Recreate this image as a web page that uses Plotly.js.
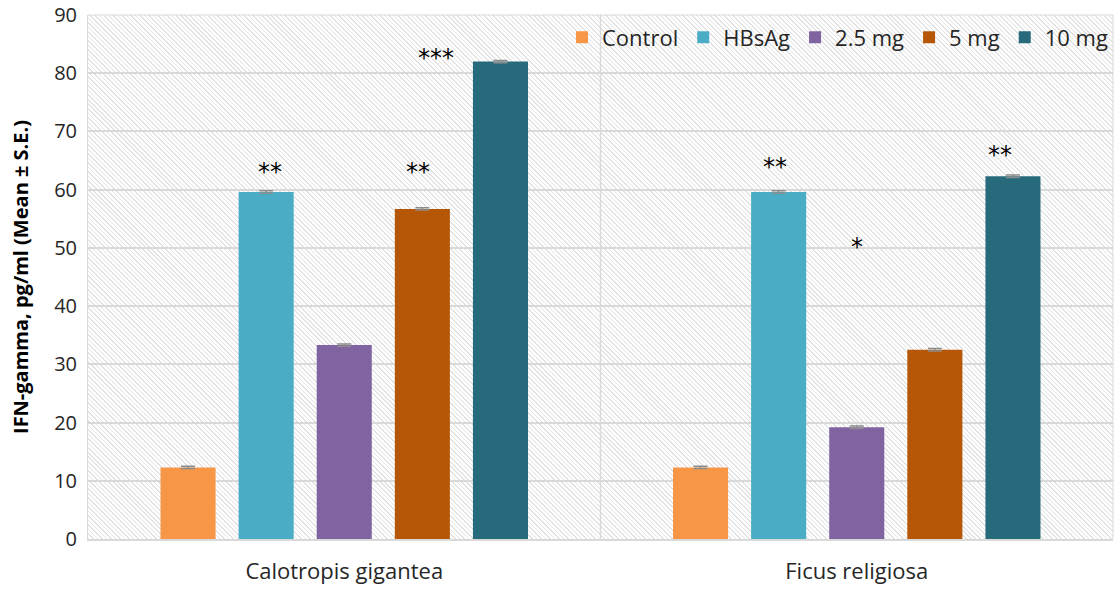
<!DOCTYPE html>
<html>
<head>
<meta charset="utf-8">
<script src="https://cdn.plot.ly/plotly-3.0.1.min.js"></script>
<style>
  html, body { margin: 0; padding: 0; background: #fff; }
  #wrap { position: relative; width: 1117px; height: 589px; }
  #hatch {
    position: absolute; left: 88px; top: 15px; width: 1025px; height: 524px;
    background: repeating-linear-gradient(45deg, #e3e3e3 0px, #e3e3e3 1.1px, #ffffff 1.1px, #ffffff 3.2px);
  }
  #chart { position: absolute; left: 0; top: 0; width: 1117px; height: 589px; }
</style>
</head>
<body>
<div id="wrap">
  <div id="hatch"></div>
  <div id="chart"></div>
</div>
<script>
const categories = ["Calotropis gigantea", "Ficus religiosa"];
const seriesNames = ["Control", "HBsAg", "2.5 mg", "5 mg", "10 mg"];
const control = [12.3, 12.3];
const hbsag = [59.6, 59.6];
const mg25 = [33.3, 19.2];
const mg5 = [56.7, 32.5];
const mg10 = [82.0, 62.3];
const errors = [0.2, 0.2];
const colors = ["#F79646", "#4BACC6", "#8064A2", "#B65708", "#276A7C"];
const yTicks = [0, 10, 20, 30, 40, 50, 60, 70, 80, 90];

// significance labels: [category index, series index, label, y position]
const sigCat = [0, 0, 0, 1, 1, 1];
const sigSeries = [1, 3, 4, 1, 2, 4];
const sigText = ["**", "**", "***", "**", "*", "**"];
const sigY = [63.1, 63.1, 82.7, 63.9, 50.2, 66.0];
const sigDx = [4, -4, -64, -4, 0, -13];

const values = [control, hbsag, mg25, mg5, mg10];
const traces = seriesNames.map((n, i) => ({
  type: "bar",
  name: n,
  x: categories,
  y: values[i],
  marker: { color: colors[i] },
  error_y: { type: "data", array: errors, visible: true, color: "#8c8c8c", thickness: 1.5, width: 7 }
}));

const slot = 78;
const annotations = sigText.map((t, k) => ({
  x: categories[sigCat[k]],
  y: sigY[k],
  xref: "x", yref: "y",
  text: t,
  showarrow: false,
  xshift: (sigSeries[k] - 2) * slot + sigDx[k],
  font: { family: "DejaVu Sans, sans-serif", size: 24, color: "#000" }
}));

const layout = {
  width: 1117, height: 589,
  margin: { l: 88, r: 4, t: 15, b: 50 },
  paper_bgcolor: "rgba(0,0,0,0)",
  plot_bgcolor: "rgba(0,0,0,0)",
  barmode: "group",
  bargap: 0.238,
  bargroupgap: 0.295,
  showlegend: true,
  legend: {
    orientation: "h", x: 1.0, xanchor: "right", y: 0.997, yanchor: "top",
    font: { family: "Open Sans, Liberation Sans, sans-serif", size: 22, color: "#262626" },
    bgcolor: "rgba(255,255,255,0)", itemwidth: 30, traceorder: "normal"
  },
  xaxis: {
    type: "category",
    showgrid: false,
    showline: true, linecolor: "#d9d9d9", linewidth: 2,
    ticks: "",
    ticklabelstandoff: 12,
    tickfont: { family: "Open Sans, Liberation Sans, sans-serif", size: 22, color: "#262626" },
    fixedrange: true
  },
  yaxis: {
    range: [0, 90],
    tickvals: yTicks,
    ticktext: yTicks.map(String),
    showgrid: true, gridcolor: "#d9d9d9", gridwidth: 2,
    zeroline: false,
    showline: true, linecolor: "#d9d9d9", linewidth: 1,
    ticks: "", ticklen: 0,
    ticklabelstandoff: 6,
    tickfont: { family: "Open Sans, Liberation Sans, sans-serif", size: 20, color: "#262626" },
    title: { text: "<b>IFN-gamma, pg/ml (Mean ± S.E.)</b>", standoff: 20,
      font: { family: "Open Sans, Liberation Sans, sans-serif", size: 20, color: "#000" } }
  },
  shapes: [
    { type: "line", xref: "x", yref: "paper", x0: 0.5, x1: 0.5, y0: 0, y1: 1, line: { color: "#d9d9d9", width: 1.5 } },
    { type: "line", xref: "paper", yref: "paper", x0: 1, x1: 1, y0: 0, y1: 1, line: { color: "#d9d9d9", width: 1 } },
    { type: "line", xref: "paper", yref: "paper", x0: 0, x1: 1, y0: 1, y1: 1, line: { color: "#d9d9d9", width: 1 } }
  ],
  annotations: annotations
};

Plotly.newPlot("chart", traces, layout, { displayModeBar: false, staticPlot: true });
</script>
</body>
</html>
